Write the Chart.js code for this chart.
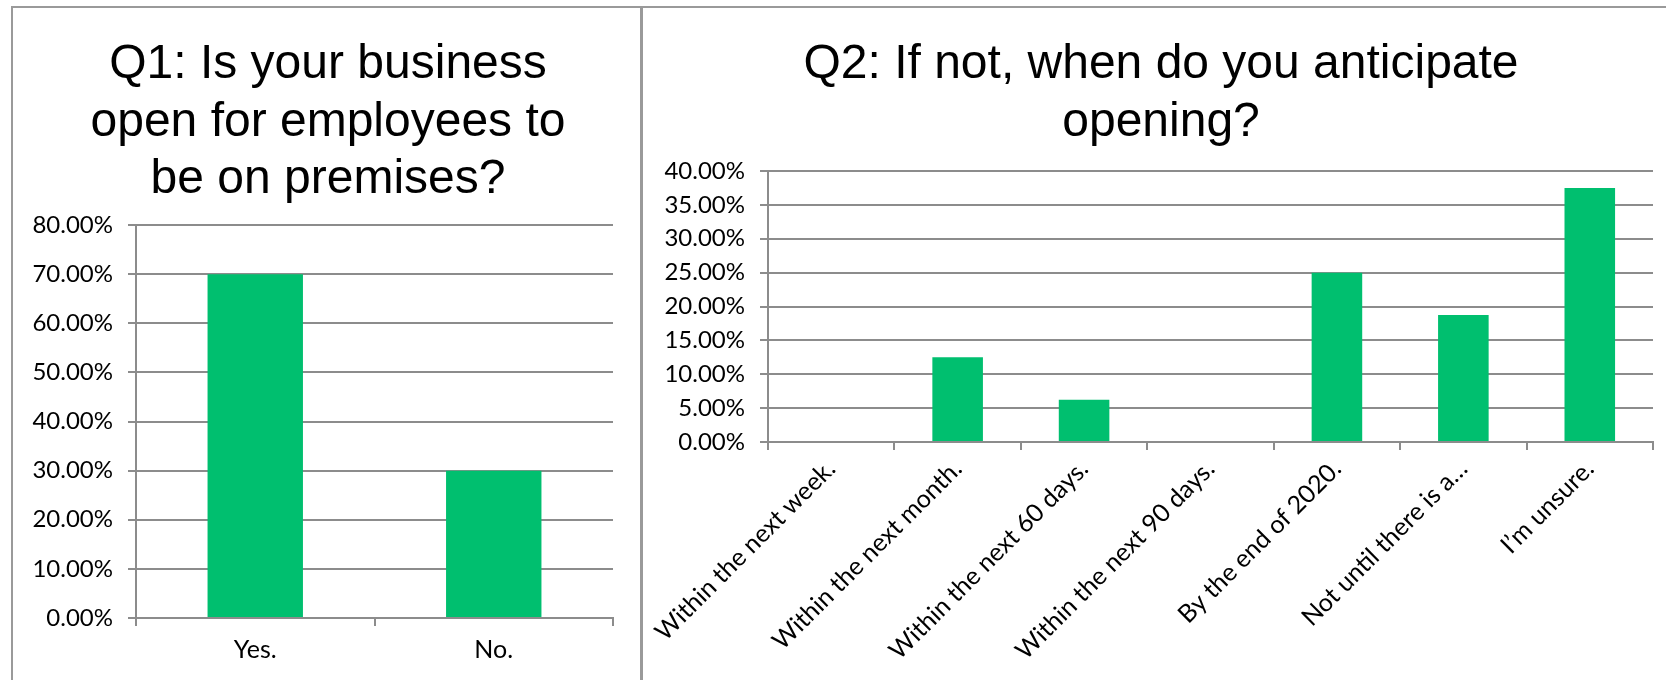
<!DOCTYPE html>
<html>
<head>
<meta charset="utf-8">
<title>Business reopening survey</title>
<script src="https://cdn.jsdelivr.net/npm/chart.js@4/dist/chart.umd.min.js"></script>
<style>
  html, body { margin: 0; padding: 0; background: #ffffff; }
  body { width: 1666px; height: 680px; position: relative; overflow: hidden; }
  .frame { position: absolute; background: #9a9a9a; }
  .title { position: absolute; top: 33px; text-align: center; color: #000000;
           font-family: 'Liberation Sans', Arial, sans-serif; font-size: 48px;
           line-height: 57.6px; white-space: nowrap; }
  #c1wrap { position: absolute; left: 0; top: 0; width: 642px; height: 680px; }
  #c2wrap { position: absolute; left: 642px; top: 0; width: 1024px; height: 680px; }
</style>
</head>
<body>
<div class="frame" style="left:11px;top:6px;width:1655px;height:2px;"></div>
<div class="frame" style="left:11px;top:6px;width:2px;height:674px;"></div>
<div class="frame" style="left:640px;top:6px;width:3px;height:674px;"></div>
<div id="c1wrap"><canvas id="q1"></canvas></div>
<div id="c2wrap"><canvas id="q2"></canvas></div>
<div class="title" id="t1" style="left:28px;width:600px;"></div>
<div class="title" id="t2" style="left:711px;width:900px;"></div>
<script>
// Q1 answers (percent of respondents)
const q1Categories = ['Yes.', 'No.'];
const q1Values = [70, 30];
const q1Title = ['Q1: Is your business', 'open for employees to', 'be on premises?'];

// Q2 answers (percent of respondents)
const q2Categories = [
  'Within the next week.',
  'Within the next month.',
  'Within the next 60 days.',
  'Within the next 90 days.',
  'By the end of 2020.',
  'Not until there is a\u2026',
  'I\u2019m unsure.'
];
const q2Values = [0, 12.5, 6.25, 0, 25, 18.75, 37.5];
const q2Title = ['Q2: If not, when do you anticipate', 'opening?'];

const BAR = '#00BF6F';
const GRID = '#8c8c8c';
const Y_FONT = { family: 'Lato', size: 24 };
const X_FONT = { family: 'Lato', size: 25 };

function pct(v) { return Number(v).toFixed(2) + '%'; }

function setTitle(id, lines) {
  const el = document.getElementById(id);
  lines.forEach((line, i) => {
    if (i) el.appendChild(document.createElement('br'));
    el.appendChild(document.createTextNode(line));
  });
}
setTitle('t1', q1Title);
setTitle('t2', q2Title);

function makeChart(id, cats, vals, o) {
  return new Chart(document.getElementById(id), {
    type: 'bar',
    data: {
      labels: cats,
      datasets: [{ data: vals, backgroundColor: BAR, borderWidth: 0,
                   barPercentage: 0.4, categoryPercentage: 1.0 }]
    },
    options: {
      responsive: true,
      maintainAspectRatio: false,
      animation: false,
      layout: { padding: { left: 0, right: o.padRight, top: o.padTop, bottom: 0 } },
      plugins: {
        legend: { display: false },
        tooltip: { enabled: false },
        title: { display: false }
      },
      scales: {
        x: {
          offset: true,
          grid: { offset: true, drawOnChartArea: false, drawTicks: true, tickLength: 8,
                  color: GRID, lineWidth: 2 },
          border: { color: GRID, width: 2 },
          ticks: { color: '#000000', font: X_FONT, autoSkip: false,
                   minRotation: o.rot, maxRotation: o.rot, padding: o.xPad },
          afterFit: s => { s.height = o.xHeight; }
        },
        y: {
          min: 0, max: o.max,
          grid: { color: GRID, lineWidth: 2, drawTicks: true, tickLength: 8 },
          border: { color: GRID, width: 2 },
          ticks: { stepSize: o.step, color: '#000000', font: Y_FONT, padding: 15,
                   callback: v => pct(v) },
          afterFit: s => { s.width = o.yWidth; }
        }
      }
    }
  });
}

// chart area: x 136..613, y 225..618
makeChart('q1', q1Categories, q1Values, {
  padRight: 29, padTop: 225, xHeight: 62, yWidth: 136,
  rot: 0, xPad: 9, max: 80, step: 10
});

// chart area: x 768..1653, y 171..442
makeChart('q2', q2Categories, q2Values, {
  padRight: 13, padTop: 171, xHeight: 238, yWidth: 126,
  rot: 45, xPad: 4, max: 40, step: 5
});
</script>
</body>
</html>
